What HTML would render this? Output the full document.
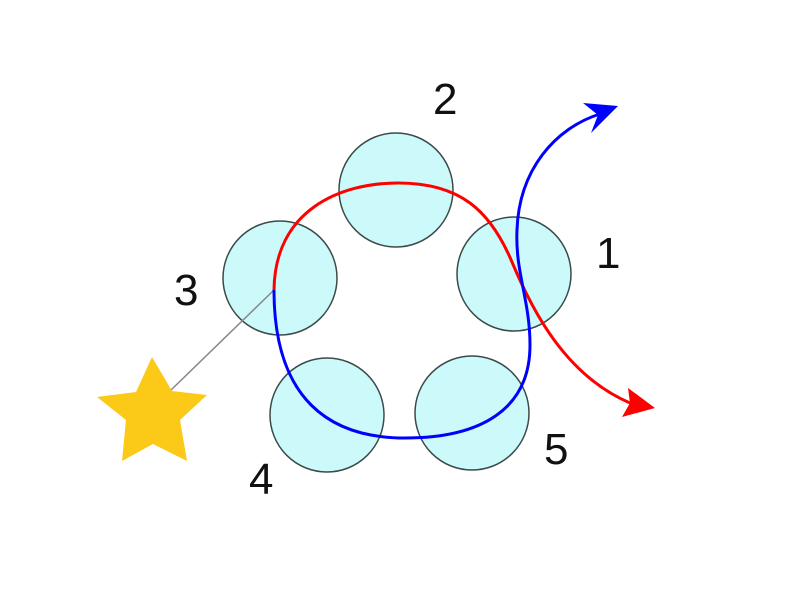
<!DOCTYPE html>
<html><head><style>html,body{margin:0;padding:0;background:#fff;}svg{display:block}</style></head>
<body>
<svg width="800" height="600" viewBox="0 0 800 600" xmlns="http://www.w3.org/2000/svg">
<rect width="800" height="600" fill="#fff"/>
<g fill="#ccfafa" stroke="#3c4a4a" stroke-width="1.5">
<circle cx="396" cy="190" r="57"/>
<circle cx="280" cy="278" r="57"/>
<circle cx="514" cy="274" r="57"/>
<circle cx="327" cy="415" r="57"/>
<circle cx="472" cy="413" r="57"/>
</g>
<line x1="170" y1="391" x2="274" y2="290" stroke="#888" stroke-width="1.5"/>
<polygon points="152,357 172,391 207,395 180,420 187,461 153,444 122,461 126,420 97,397 136,392" fill="#fbc918"/>
<path d="M274,290 C275,210 340,183 398,183 C460,183 490,210 512,262 C532,310 565,375 630,403" fill="none" stroke="#f00" stroke-width="3"/>
<polygon points="655,408 622,417 630,403 628,388" fill="#f00"/>
<path d="M274,290 C274,400 330,438 405,438 C480,438 530,410 530,345 C530,300 515,272 517,230 C519,170 555,128 600,114" fill="none" stroke="#00f" stroke-width="3"/>
<polygon points="618,106 591,133 598,115 583,103" fill="#00f"/>
<g font-family="Liberation Sans, sans-serif" font-size="44" fill="#111">
<text x="433" y="114">2</text>
<text x="596" y="268">1</text>
<text x="174" y="305">3</text>
<text x="249" y="494">4</text>
<text x="544" y="464">5</text>
</g>
</svg>
</body></html>
